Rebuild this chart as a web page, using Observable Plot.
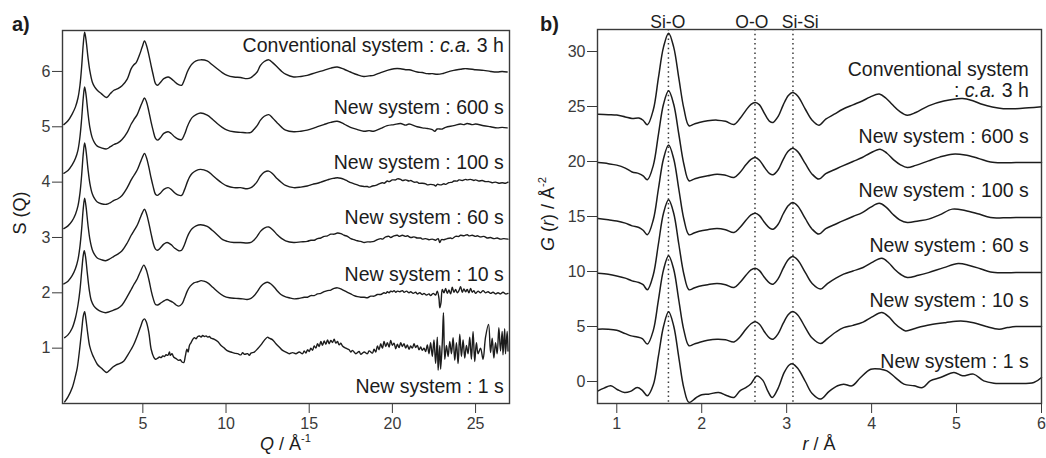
<!DOCTYPE html>
<html><head><meta charset="utf-8">
<script src="https://cdn.jsdelivr.net/npm/d3@7"></script>
<script src="https://cdn.jsdelivr.net/npm/@observablehq/plot@0.6"></script>
<style>
body{margin:0;background:#fff;font-family:"Liberation Sans",Arial,sans-serif;}
#wrap{position:relative;width:1046px;height:458px;overflow:hidden;}
#pa{position:absolute;left:0;top:0}
#pb{position:absolute;left:523px;top:0}
svg{overflow:visible}
</style></head><body><div id="wrap"><div id="pa"></div><div id="pb"></div></div>
<script>
// ---------- Panel a: S(Q) ----------
const sqLabels = ["Conventional system : c.a. 3 h","New system : 600 s","New system : 100 s","New system : 60 s","New system : 10 s","New system : 1 s"];
const sqOffsets = [5,4,3,2,1,0];
const sqXTicks = [5,10,15,20,25];
const sqYTicks = [1,2,3,4,5,6];

const sqConv = [[0.25,0.04],[0.5,0.11],[0.75,0.23],[0.95,0.36],[1.1,0.52],[1.22,0.75],[1.32,1.08],[1.42,1.5],[1.5,1.71],[1.58,1.58],[1.7,1.26],[1.82,1.0],[1.96,0.81],[2.1,0.72],[2.26,0.66],[2.5,0.6],[2.82,0.53],[3.05,0.6],[3.26,0.66],[3.5,0.69],[3.75,0.74],[4.06,0.86],[4.3,1.05],[4.46,1.12],[4.6,1.16],[4.8,1.3],[4.96,1.44],[5.1,1.55],[5.22,1.47],[5.36,1.3],[5.5,1.1],[5.62,0.94],[5.76,0.78],[5.88,0.75],[6.05,0.8],[6.26,0.87],[6.52,0.9],[6.7,0.87],[6.9,0.82],[7.1,0.77],[7.33,0.75],[7.5,0.85],[7.67,0.99],[7.82,1.08],[7.97,1.14],[8.2,1.19],[8.47,1.21],[8.87,1.19],[9.17,1.12],[9.47,1.05],[9.77,0.98],[10.07,0.93],[10.47,0.9],[10.87,0.89],[11.27,0.87],[11.5,0.89],[11.67,0.93],[11.87,0.99],[12.07,1.11],[12.3,1.18],[12.57,1.21],[12.8,1.16],[13.08,1.08],[13.35,1.0],[13.58,0.95],[14.07,0.9],[14.5,0.91],[14.88,0.93],[15.4,0.98],[15.88,1.02],[16.3,1.06],[16.68,1.08],[17.1,1.04],[17.48,0.99],[17.9,0.94],[18.28,0.91],[18.6,0.92],[18.88,0.93],[19.3,0.98],[19.69,1.02],[20.1,1.05],[20.49,1.05],[20.8,1.03],[21.0,1.03],[21.49,0.99],[21.8,0.98],[22.1,0.96],[22.4,0.96],[22.69,0.95],[23.0,0.96],[23.2,0.98],[23.69,1.02],[24.1,1.04],[24.3,1.05],[24.49,1.05],[24.8,1.04],[25.0,1.03],[25.49,1.02],[25.9,1.0],[26.3,0.99],[26.6,1.0],[26.9,0.99]];
const sq600 = [[0.25,0.16],[0.5,0.21],[0.75,0.31],[0.95,0.43],[1.1,0.58],[1.22,0.82],[1.32,1.14],[1.42,1.53],[1.5,1.72],[1.58,1.59],[1.7,1.25],[1.82,0.98],[1.96,0.8],[2.1,0.71],[2.26,0.65],[2.5,0.62],[2.82,0.6],[3.05,0.64],[3.26,0.68],[3.5,0.71],[3.75,0.77],[4.06,0.9],[4.3,1.05],[4.46,1.13],[4.66,1.22],[4.85,1.36],[4.96,1.44],[5.1,1.52],[5.22,1.45],[5.36,1.28],[5.5,1.08],[5.62,0.93],[5.76,0.79],[5.88,0.76],[6.05,0.8],[6.26,0.88],[6.52,0.91],[6.7,0.88],[6.9,0.82],[7.1,0.78],[7.33,0.77],[7.5,0.86],[7.67,1.0],[7.82,1.1],[7.97,1.17],[8.2,1.22],[8.47,1.25],[8.87,1.21],[9.17,1.14],[9.47,1.06],[9.77,0.99],[10.07,0.94],[10.47,0.91],[10.87,0.9],[11.27,0.89],[11.5,0.9],[11.67,0.95],[11.87,1.02],[12.07,1.12],[12.3,1.19],[12.57,1.22],[12.8,1.16],[13.08,1.07],[13.35,0.99],[13.58,0.94],[14.07,0.91],[14.5,0.92],[14.88,0.94],[15.4,0.99],[15.88,1.04],[16.3,1.08],[16.68,1.1],[17.1,1.05],[17.48,0.99],[17.9,0.95],[18.28,0.92],[18.6,0.93],[18.88,0.92],[19.3,0.97],[19.69,1.02],[20.1,1.04],[20.49,1.06],[20.8,1.03],[21.0,1.05],[21.49,1.0],[21.8,0.98],[22.1,0.97],[22.4,0.95],[22.55,0.92],[22.69,0.96],[23.0,0.96],[23.2,0.99],[23.69,1.02],[24.1,1.05],[24.3,1.04],[24.49,1.06],[24.8,1.04],[25.0,1.05],[25.49,1.02],[25.9,1.0],[26.3,0.98],[26.6,0.99],[26.9,0.98]];
const sq100 = [[0.25,0.16],[0.5,0.21],[0.75,0.3],[0.95,0.42],[1.1,0.57],[1.22,0.8],[1.32,1.12],[1.42,1.52],[1.5,1.71],[1.58,1.58],[1.7,1.24],[1.82,0.97],[1.96,0.79],[2.1,0.7],[2.26,0.64],[2.5,0.61],[2.82,0.6],[3.05,0.63],[3.26,0.67],[3.5,0.7],[3.75,0.76],[4.06,0.9],[4.3,1.04],[4.46,1.12],[4.66,1.22],[4.85,1.36],[4.96,1.44],[5.1,1.52],[5.22,1.44],[5.36,1.27],[5.5,1.07],[5.62,0.92],[5.76,0.78],[5.88,0.76],[6.05,0.8],[6.26,0.87],[6.52,0.9],[6.7,0.87],[6.9,0.81],[7.1,0.77],[7.33,0.76],[7.5,0.86],[7.67,1.0],[7.82,1.1],[7.97,1.16],[8.2,1.21],[8.47,1.23],[8.87,1.2],[9.17,1.13],[9.47,1.05],[9.77,0.98],[10.07,0.93],[10.47,0.9],[10.87,0.9],[11.27,0.88],[11.5,0.9],[11.67,0.94],[11.87,1.01],[12.07,1.11],[12.3,1.18],[12.57,1.2],[12.8,1.15],[13.08,1.06],[13.35,0.99],[13.58,0.94],[14.07,0.9],[14.5,0.91],[14.88,0.93],[15.2,0.96],[15.5,0.98],[15.7,1.0],[15.9,1.02],[16.1,1.04],[16.3,1.06],[16.5,1.07],[16.7,1.08],[16.9,1.07],[17.1,1.05],[17.3,1.02],[17.5,0.99],[17.7,0.97],[17.9,0.95],[18.1,0.93],[18.3,0.92],[18.5,0.92],[18.6,0.91],[18.8,0.93],[19.0,0.94],[19.2,0.97],[19.4,0.99],[19.5,0.98],[19.7,1.02],[19.8,1.01],[20.0,1.04],[20.2,1.04],[20.3,1.06],[20.5,1.05],[20.6,1.03],[20.8,1.04],[21.0,1.02],[21.1,1.03],[21.3,1.0],[21.5,1.0],[21.6,0.98],[21.8,0.98],[22.0,0.97],[22.1,0.95],[22.3,0.96],[22.5,0.95],[22.6,0.93],[22.7,0.96],[22.9,0.95],[23.1,0.97],[23.2,0.96],[23.4,0.99],[23.6,1.0],[23.7,1.02],[23.9,1.02],[24.0,1.04],[24.2,1.03],[24.4,1.05],[24.5,1.04],[24.7,1.05],[24.9,1.03],[25.0,1.04],[25.2,1.02],[25.4,1.03],[25.6,1.01],[25.8,1.01],[26.0,0.99],[26.2,1.0],[26.4,0.98],[26.6,0.99],[26.8,0.98],[26.95,1.0]];
const sq60 = [[0.25,0.16],[0.5,0.21],[0.75,0.31],[0.95,0.44],[1.1,0.6],[1.22,0.84],[1.32,1.15],[1.42,1.53],[1.5,1.71],[1.58,1.57],[1.7,1.23],[1.82,0.96],[1.96,0.78],[2.1,0.69],[2.26,0.63],[2.5,0.6],[2.76,0.58],[3.05,0.62],[3.26,0.66],[3.5,0.7],[3.75,0.76],[4.06,0.9],[4.3,1.04],[4.46,1.12],[4.66,1.22],[4.85,1.36],[4.96,1.44],[5.1,1.51],[5.22,1.43],[5.36,1.26],[5.5,1.06],[5.66,0.86],[5.76,0.79],[5.88,0.77],[6.05,0.81],[6.26,0.88],[6.46,0.91],[6.7,0.87],[6.9,0.81],[7.16,0.76],[7.33,0.77],[7.5,0.87],[7.67,1.01],[7.82,1.1],[7.97,1.16],[8.2,1.21],[8.47,1.23],[8.87,1.2],[9.17,1.13],[9.47,1.05],[9.8,0.96],[10.07,0.93],[10.47,0.91],[10.87,0.91],[11.27,0.9],[11.5,0.91],[11.67,0.95],[11.87,1.02],[12.07,1.11],[12.3,1.17],[12.57,1.19],[12.8,1.14],[13.08,1.05],[13.35,0.98],[13.58,0.94],[14.07,0.91],[14.5,0.92],[14.88,0.93],[15.1,0.95],[15.3,0.95],[15.5,0.98],[15.7,0.99],[15.9,1.02],[16.1,1.03],[16.3,1.06],[16.5,1.06],[16.7,1.08],[16.9,1.07],[17.1,1.04],[17.3,1.02],[17.5,0.98],[17.7,0.96],[17.9,0.94],[18.1,0.93],[18.3,0.91],[18.5,0.92],[18.7,0.92],[18.9,0.93],[19.1,0.96],[19.3,0.98],[19.4,0.97],[19.6,1.01],[19.8,1.02],[19.9,1.0],[20.1,1.03],[20.3,1.04],[20.4,1.02],[20.6,1.04],[20.8,1.02],[20.9,1.03],[21.1,1.0],[21.3,1.01],[21.5,0.99],[21.7,0.99],[21.8,0.97],[22.0,0.98],[22.2,0.96],[22.4,0.97],[22.6,0.95],[22.75,0.98],[22.85,0.91],[22.95,0.96],[23.1,0.96],[23.3,0.98],[23.5,0.99],[23.6,0.98],[23.8,1.02],[24.0,1.02],[24.1,1.04],[24.3,1.03],[24.5,1.05],[24.6,1.03],[24.8,1.04],[25.0,1.02],[25.1,1.03],[25.3,1.01],[25.5,1.02],[25.7,0.99],[25.9,1.0],[26.1,0.98],[26.3,0.99],[26.5,0.97],[26.7,0.98],[26.95,0.97]];
const sq10 = [[0.3,0.19],[0.5,0.24],[0.75,0.36],[0.95,0.55],[1.1,0.78],[1.22,1.05],[1.32,1.38],[1.42,1.68],[1.48,1.76],[1.56,1.64],[1.66,1.36],[1.78,1.05],[1.9,0.86],[2.06,0.76],[2.26,0.7],[2.5,0.66],[2.76,0.64],[3.0,0.66],[3.26,0.69],[3.5,0.72],[3.75,0.78],[4.06,0.93],[4.3,1.06],[4.46,1.15],[4.66,1.25],[4.85,1.38],[5.06,1.5],[5.2,1.42],[5.36,1.24],[5.5,1.04],[5.62,0.9],[5.76,0.79],[5.9,0.78],[6.1,0.82],[6.3,0.86],[6.46,0.88],[6.6,0.86],[6.8,0.83],[7.0,0.78],[7.16,0.76],[7.35,0.8],[7.5,0.9],[7.67,1.03],[7.85,1.12],[8.07,1.18],[8.3,1.2],[8.5,1.22],[8.67,1.21],[8.9,1.18],[9.2,1.1],[9.5,1.02],[9.87,0.94],[10.2,0.91],[10.6,0.9],[11.0,0.89],[11.27,0.88],[11.5,0.9],[11.7,0.95],[11.9,1.03],[12.1,1.12],[12.3,1.17],[12.5,1.19],[12.7,1.16],[12.9,1.1],[13.1,1.03],[13.3,0.97],[13.55,0.93],[13.8,0.91],[14.1,0.89],[14.4,0.9],[14.7,0.92],[14.9,0.92],[15.1,0.95],[15.3,0.95],[15.5,0.98],[15.7,0.99],[15.9,1.02],[16.1,1.04],[16.3,1.05],[16.5,1.08],[16.7,1.09],[16.9,1.07],[17.1,1.04],[17.3,1.01],[17.5,0.98],[17.7,0.95],[17.9,0.93],[18.1,0.92],[18.3,0.92],[18.5,0.91],[18.7,0.94],[18.9,0.94],[19.1,0.97],[19.3,0.97],[19.5,1.0],[19.6,0.99],[19.7,1.02],[19.8,1.0],[19.9,1.03],[20.0,1.02],[20.1,1.04],[20.2,1.01],[20.3,1.03],[20.45,1.02],[20.6,1.04],[20.7,1.01],[20.85,1.03],[21.0,1.0],[21.1,1.02],[21.25,0.99],[21.4,1.01],[21.5,0.98],[21.65,1.0],[21.8,0.97],[21.9,0.99],[22.05,0.96],[22.2,0.98],[22.3,0.95],[22.45,0.99],[22.6,0.96],[22.7,1.03],[22.8,0.9],[22.85,0.73],[22.92,0.82],[23.0,1.06],[23.1,1.0],[23.2,1.08],[23.3,0.99],[23.4,1.05],[23.5,0.98],[23.6,1.1],[23.7,1.01],[23.8,1.06],[23.9,1.0],[24.0,1.04],[24.1,1.11],[24.2,1.01],[24.3,1.07],[24.4,1.02],[24.5,1.06],[24.6,1.0],[24.7,1.08],[24.8,1.01],[24.9,1.04],[25.0,0.99],[25.15,1.03],[25.3,1.0],[25.45,1.04],[25.6,1.0],[25.75,1.02],[25.9,0.99],[26.05,1.01],[26.2,0.98],[26.35,1.0],[26.5,0.98],[26.65,1.01],[26.8,0.98],[26.95,0.99]];
const sq1 = [[0.3,0.03],[0.5,0.12],[0.76,0.29],[0.95,0.5],[1.06,0.65],[1.2,0.98],[1.32,1.31],[1.42,1.58],[1.5,1.66],[1.58,1.52],[1.68,1.28],[1.8,1.04],[1.96,0.89],[2.1,0.8],[2.26,0.71],[2.5,0.64],[2.82,0.56],[3.0,0.6],[3.2,0.66],[3.4,0.7],[3.6,0.72],[3.86,0.77],[4.1,0.88],[4.3,0.98],[4.46,1.07],[4.7,1.25],[4.9,1.42],[5.0,1.5],[5.1,1.53],[5.2,1.48],[5.35,1.3],[5.5,0.98],[5.65,0.84],[5.76,0.8],[5.9,0.82],[6.0,0.84],[6.1,0.83],[6.2,0.86],[6.3,0.85],[6.4,0.88],[6.5,0.87],[6.6,0.93],[6.65,0.87],[6.75,0.9],[6.85,0.84],[6.95,0.82],[7.05,0.8],[7.15,0.78],[7.25,0.79],[7.35,0.75],[7.46,0.74],[7.55,0.85],[7.65,0.98],[7.72,0.93],[7.8,1.05],[7.9,1.1],[8.0,1.16],[8.1,1.19],[8.2,1.17],[8.3,1.21],[8.4,1.22],[8.5,1.2],[8.6,1.23],[8.7,1.21],[8.8,1.22],[8.9,1.2],[9.0,1.21],[9.1,1.18],[9.3,1.16],[9.5,1.12],[9.7,1.05],[9.9,1.0],[10.1,0.95],[10.3,0.93],[10.5,0.91],[10.7,0.9],[10.9,0.88],[11.0,0.92],[11.1,0.89],[11.3,0.9],[11.4,0.87],[11.5,0.91],[11.7,0.93],[11.9,0.99],[12.1,1.06],[12.3,1.14],[12.5,1.2],[12.6,1.18],[12.8,1.15],[13.0,1.08],[13.2,1.02],[13.4,0.96],[13.6,0.93],[13.8,0.9],[14.0,0.92],[14.2,0.9],[14.4,0.93],[14.6,0.9],[14.7,0.95],[14.8,0.91],[14.9,0.97],[15.0,0.94],[15.1,1.0],[15.2,0.96],[15.3,1.04],[15.4,1.0],[15.5,1.08],[15.6,1.03],[15.7,1.12],[15.8,1.05],[15.9,1.13],[16.0,1.07],[16.1,1.15],[16.2,1.08],[16.3,1.14],[16.4,1.1],[16.5,1.16],[16.6,1.09],[16.7,1.12],[16.8,1.06],[16.9,1.09],[17.0,1.04],[17.2,1.0],[17.4,0.97],[17.5,0.93],[17.6,0.96],[17.8,0.9],[18.0,0.94],[18.1,0.89],[18.3,0.93],[18.5,0.9],[18.6,0.95],[18.8,0.91],[18.9,0.98],[19.0,0.93],[19.1,1.04],[19.2,0.97],[19.3,1.08],[19.4,1.0],[19.5,1.12],[19.6,1.03],[19.7,1.1],[19.8,1.02],[19.9,1.14],[20.0,1.05],[20.1,1.09],[20.2,0.99],[20.3,1.07],[20.4,1.01],[20.5,1.1],[20.6,1.03],[20.7,1.08],[20.8,1.0],[20.9,1.06],[21.0,0.98],[21.1,1.04],[21.2,1.0],[21.3,1.08],[21.4,1.01],[21.5,1.05],[21.6,0.97],[21.7,1.02],[21.8,0.96],[21.9,1.0],[22.0,0.94],[22.1,1.06],[22.2,0.9],[22.3,1.1],[22.4,0.85],[22.5,1.15],[22.6,0.72],[22.7,1.2],[22.75,0.6],[22.85,1.05],[22.9,0.62],[23.0,1.1],[23.07,1.64],[23.15,0.8],[23.25,1.05],[23.35,0.85],[23.45,1.12],[23.55,0.9],[23.65,1.19],[23.75,0.78],[23.85,1.1],[23.95,0.72],[24.05,1.25],[24.15,0.85],[24.25,1.15],[24.35,0.82],[24.45,1.05],[24.55,0.9],[24.65,1.2],[24.75,0.8],[24.85,1.3],[24.95,0.76],[25.05,1.1],[25.15,0.9],[25.3,1.0],[25.45,0.8],[25.6,1.2],[25.78,1.43],[25.9,0.92],[26.0,1.18],[26.1,0.82],[26.2,1.1],[26.3,0.9],[26.4,1.37],[26.5,0.95],[26.6,1.3],[26.65,0.88],[26.75,1.35],[26.8,0.9],[26.9,1.3],[26.95,0.95]];
const sqSeries = [sqConv, sq600, sq100, sq60, sq10, sq1];

// ---------- Panel b: G(r) ----------
const grLabels = ["Conventional system\n: c.a. 3 h","New system : 600 s","New system : 100 s","New system : 60 s","New system : 10 s","New system : 1 s"];
const grOffsets = [25,20,15,10,5,0];
const grXTicks = [1,2,3,4,5,6];
const grYTicks = [0,5,10,15,20,25,30];
const bondNames = ["Si-O","O-O","Si-Si"];
const bondR = [1.608, 2.627, 3.074];

const grConv = [[0.78,-0.7],[0.9,-0.74],[1.0,-0.78],[1.1,-0.95],[1.18,-1.09],[1.26,-1.05],[1.31,-1.25],[1.36,-1.66],[1.43,-0.3],[1.49,2.6],[1.55,5.4],[1.61,6.67],[1.67,5.4],[1.73,2.6],[1.79,-0.2],[1.85,-1.75],[1.91,-1.6],[1.97,-1.45],[2.07,-1.3],[2.18,-1.24],[2.28,-1.35],[2.38,-1.63],[2.45,-1.1],[2.52,-0.35],[2.58,0.2],[2.63,0.37],[2.68,0.15],[2.74,-0.65],[2.8,-1.35],[2.84,-1.45],[2.9,-0.9],[2.96,0.15],[3.02,1.0],[3.07,1.27],[3.13,0.95],[3.22,-0.25],[3.3,-1.25],[3.38,-1.7],[3.46,-1.15],[3.56,-0.7],[3.66,-0.25],[3.78,0.15],[3.89,0.5],[3.98,0.85],[4.09,1.13],[4.17,0.75],[4.24,0.2],[4.33,-0.45],[4.42,-0.8],[4.52,-0.55],[4.67,0.06],[4.85,0.5],[5.07,0.73],[5.2,0.5],[5.3,0.2],[5.42,-0.05],[5.55,-0.2],[5.7,-0.2],[5.85,-0.12],[6.0,-0.03]];
const gr600 = [[0.78,-0.1],[0.9,-0.2],[1.0,-0.33],[1.1,-0.6],[1.18,-0.95],[1.26,-1.1],[1.31,-1.3],[1.36,-1.66],[1.43,-0.35],[1.49,2.45],[1.55,5.2],[1.61,6.43],[1.67,5.2],[1.73,2.5],[1.79,-0.25],[1.85,-1.75],[1.91,-1.6],[1.97,-1.45],[2.07,-1.3],[2.18,-1.15],[2.28,-1.25],[2.38,-1.45],[2.45,-1.0],[2.52,-0.3],[2.58,0.2],[2.63,0.36],[2.68,0.12],[2.74,-0.55],[2.8,-1.1],[2.84,-1.2],[2.9,-0.75],[2.96,0.2],[3.02,0.95],[3.07,1.2],[3.13,0.9],[3.22,-0.2],[3.3,-1.15],[3.38,-1.6],[3.46,-1.1],[3.56,-0.75],[3.66,-0.4],[3.78,0.0],[3.89,0.36],[3.98,0.75],[4.1,1.12],[4.18,0.75],[4.26,0.15],[4.34,-0.3],[4.42,-0.55],[4.52,-0.35],[4.67,0.06],[4.8,0.4],[4.95,0.67],[5.1,0.6],[5.25,0.3],[5.4,-0.05],[5.55,-0.12],[5.7,-0.1],[5.85,-0.1],[6.0,-0.1]];
const gr100 = [[0.78,-0.18],[0.9,-0.3],[1.0,-0.4],[1.1,-0.6],[1.18,-0.85],[1.26,-1.0],[1.31,-1.25],[1.36,-1.66],[1.43,-0.3],[1.49,2.5],[1.55,5.25],[1.61,6.49],[1.67,5.25],[1.73,2.5],[1.79,-0.25],[1.85,-1.66],[1.91,-1.5],[1.97,-1.35],[2.07,-1.2],[2.18,-1.09],[2.28,-1.2],[2.38,-1.45],[2.45,-1.0],[2.52,-0.35],[2.58,0.15],[2.63,0.3],[2.68,0.08],[2.74,-0.55],[2.8,-1.05],[2.84,-1.15],[2.9,-0.7],[2.96,0.25],[3.02,1.0],[3.07,1.27],[3.13,0.95],[3.22,-0.2],[3.3,-1.15],[3.38,-1.6],[3.46,-1.1],[3.56,-0.75],[3.66,-0.4],[3.78,0.0],[3.89,0.36],[3.98,0.8],[4.09,1.2],[4.17,0.85],[4.25,0.2],[4.33,-0.3],[4.42,-0.55],[4.55,-0.4],[4.67,-0.24],[4.8,0.15],[4.95,0.67],[5.1,0.55],[5.25,0.25],[5.4,-0.1],[5.55,-0.12],[5.7,-0.1],[5.85,-0.1],[6.0,-0.1]];
const gr60 = [[0.78,-0.15],[0.9,-0.25],[1.0,-0.4],[1.1,-0.6],[1.18,-0.85],[1.26,-1.0],[1.31,-1.2],[1.36,-1.66],[1.43,-0.3],[1.49,2.5],[1.55,5.3],[1.61,6.52],[1.67,5.3],[1.73,2.5],[1.79,-0.25],[1.85,-1.66],[1.91,-1.5],[1.97,-1.35],[2.07,-1.2],[2.18,-1.09],[2.28,-1.2],[2.38,-1.45],[2.45,-1.0],[2.52,-0.35],[2.58,0.15],[2.63,0.3],[2.68,0.08],[2.74,-0.55],[2.8,-1.05],[2.84,-1.15],[2.9,-0.65],[2.96,0.3],[3.02,1.1],[3.07,1.37],[3.13,1.05],[3.22,-0.1],[3.3,-1.1],[3.4,-1.6],[3.48,-1.1],[3.58,-0.6],[3.67,-0.24],[3.78,0.05],[3.9,0.36],[4.0,0.8],[4.12,1.2],[4.2,0.8],[4.27,0.2],[4.34,-0.25],[4.42,-0.55],[4.55,-0.35],[4.67,-0.1],[4.85,0.35],[5.02,0.73],[5.15,0.55],[5.28,0.25],[5.4,-0.05],[5.55,-0.12],[5.7,-0.1],[5.85,-0.1],[6.0,-0.1]];
const gr10 = [[0.78,-0.24],[0.9,-0.25],[1.0,-0.35],[1.1,-0.65],[1.17,-0.85],[1.24,-0.95],[1.3,-1.1],[1.36,-1.6],[1.43,-0.35],[1.49,2.4],[1.55,5.15],[1.61,6.43],[1.67,5.2],[1.73,2.4],[1.79,-0.35],[1.85,-1.75],[1.91,-1.6],[1.97,-1.45],[2.07,-1.25],[2.18,-1.15],[2.28,-1.2],[2.38,-1.4],[2.45,-0.95],[2.52,-0.25],[2.58,0.25],[2.63,0.43],[2.68,0.2],[2.74,-0.5],[2.8,-1.05],[2.84,-1.15],[2.9,-0.65],[2.96,0.3],[3.02,1.1],[3.07,1.36],[3.13,1.05],[3.22,-0.1],[3.3,-1.05],[3.4,-1.55],[3.48,-1.1],[3.58,-0.5],[3.67,-0.1],[3.78,0.1],[3.9,0.4],[4.0,0.85],[4.12,1.27],[4.2,0.9],[4.27,0.3],[4.34,-0.15],[4.4,-0.4],[4.52,-0.15],[4.69,0.15],[4.87,0.35],[5.05,0.5],[5.2,0.35],[5.35,0.0],[5.5,-0.24],[5.6,-0.1],[5.7,0.0],[5.85,0.0],[6.0,0.0]];
const gr1 = [[0.78,-0.85],[0.85,-0.6],[0.93,-0.39],[1.01,-0.75],[1.09,-1.0],[1.16,-0.9],[1.24,-0.55],[1.3,-0.8],[1.36,-1.3],[1.43,-0.3],[1.49,2.3],[1.55,5.0],[1.61,6.34],[1.67,5.05],[1.73,2.2],[1.79,-0.6],[1.85,-1.9],[1.93,-1.5],[2.0,-1.2],[2.08,-1.15],[2.2,-1.0],[2.3,-1.3],[2.38,-1.45],[2.45,-0.85],[2.52,-0.55],[2.58,-0.2],[2.65,0.5],[2.72,0.1],[2.78,-0.9],[2.83,-1.45],[2.9,-0.6],[2.97,0.8],[3.03,1.5],[3.07,1.6],[3.13,1.2],[3.22,0.0],[3.3,-1.1],[3.4,-1.6],[3.5,-0.9],[3.6,-0.39],[3.67,-0.24],[3.77,-0.39],[3.87,0.36],[3.99,1.12],[4.11,1.12],[4.18,0.97],[4.28,0.36],[4.38,-0.24],[4.5,-0.39],[4.6,-0.55],[4.69,0.06],[4.81,0.36],[4.97,0.82],[5.07,0.52],[5.2,0.67],[5.32,0.06],[5.44,-0.15],[5.68,-0.18],[5.91,-0.09],[6.0,0.36]];
const grSeries = [grConv, gr600, gr100, gr60, gr10, gr1];

// ---------- build tables ----------
const sqData = sqSeries.flatMap((pts, i) => pts.map(([q, s]) => ({series: sqLabels[i], q, s: s + sqOffsets[i]})));
const grData = grSeries.flatMap((pts, i) => pts.map(([r, g]) => ({series: grLabels[i], r, g: g + grOffsets[i]})));

// label anchors (layout: baseline positions in data units)
const sqLabelRows = sqLabels.map((t, i) => ({t, x: 26.7, y: [6.35, 5.24, 4.24, 3.245, 2.21, 0.196][i]}));
const grLabelRows = grLabels.map((t, i) => ({t, x: 5.85, y: [25.9, 21.67, 16.73, 11.73, 6.73, 1.27][i]}));
const bondRows = bondNames.map((t, i) => ({t, x: [1.6, 2.59, 3.16][i]}));

const FONT = "Liberation Sans, Arial, Helvetica, sans-serif";
const INK = "#1c1c1c";
const AX = "#3a3a3a";

const plotA = Plot.plot({
  width: 523, height: 458,
  marginLeft: 62, marginRight: 14, marginTop: 30, marginBottom: 55,
  style: {fontFamily: FONT, fontSize: "16px", color: AX, background: "transparent", overflow: "visible"},
  x: {domain: [0.17, 27.04], ticks: sqXTicks, tickFormat: "d", tickSize: 10, tickPadding: 4, label: null},
  y: {domain: [0, 6.74], ticks: sqYTicks, tickFormat: "d", tickSize: 10, tickPadding: 2, label: null},
  marks: [
    Plot.line(sqData, {x: "q", y: "s", z: "series", stroke: INK, strokeWidth: 1.4, curve: "catmull-rom"}),
    Plot.frame({stroke: AX, strokeWidth: 1.4}),
    Plot.text(sqLabelRows, {x: "x", y: "y", text: "t", textAnchor: "end", lineAnchor: "bottom", fontSize: 19.5, fill: INK})
  ]
});

const plotB = Plot.plot({
  width: 523, height: 458,
  marginLeft: 74, marginRight: 5, marginTop: 29, marginBottom: 55,
  style: {fontFamily: FONT, fontSize: "16px", color: AX, background: "transparent", overflow: "visible"},
  x: {domain: [0.773, 6.0], ticks: grXTicks, tickFormat: "d", tickSize: 10, tickPadding: 4, label: null},
  y: {domain: [-2, 32], ticks: grYTicks, tickFormat: "d", tickSize: 10, tickPadding: 2, label: null},
  marks: [
    Plot.ruleX(bondR, {stroke: AX, strokeWidth: 1.5, strokeDasharray: "1.5 3.2"}),
    Plot.line(grData, {x: "r", y: "g", z: "series", stroke: INK, strokeWidth: 1.5, curve: "catmull-rom"}),
    Plot.frame({stroke: AX, strokeWidth: 1.4}),
    Plot.text(grLabelRows, {x: "x", y: "y", text: "t", textAnchor: "end", lineAnchor: "bottom", lineHeight: 1.08, fontSize: 19.5, fill: INK}),
    Plot.text(bondRows, {x: "x", y: () => 32, text: "t", lineAnchor: "bottom", dy: -2, fontSize: 17.5, fill: INK})
  ]
});

// italic "c.a."
function styleWord(svg, word) {
  const ns = "http://www.w3.org/2000/svg";
  svg.querySelectorAll("text, tspan").forEach(el => {
    if (el.childNodes.length !== 1 || el.firstChild.nodeType !== 3) return;
    const t = el.textContent; const i = t.indexOf(word); if (i < 0) return;
    el.textContent = "";
    const a = document.createElementNS(ns, "tspan"); a.textContent = t.slice(0, i);
    const b = document.createElementNS(ns, "tspan"); b.textContent = word; b.setAttribute("font-style", "italic");
    const c = document.createElementNS(ns, "tspan"); c.textContent = t.slice(i + word.length);
    el.append(a, b, c);
  });
}
styleWord(plotA, "c.a.");
styleWord(plotB, "c.a.");

function addText(svg, {x, y, rotate = 0, anchor = "middle", size = 18, weight = "normal", parts}) {
  const t = d3.select(svg).append("text")
    .attr("transform", `translate(${x},${y}) rotate(${rotate})`)
    .attr("text-anchor", anchor).attr("font-size", size).attr("font-weight", weight)
    .attr("font-family", FONT).attr("fill", INK);
  for (const p of parts) {
    const s = t.append("tspan").text(p.t);
    if (p.i) s.attr("font-style", "italic");
    if (p.sup) s.attr("font-size", size * 0.62).attr("dy", -size * 0.42);
  }
}
const xa = plotA.scale("x").range;
const xb = plotB.scale("x").range;
addText(plotA, {x: 12, y: 31, anchor: "start", size: 20, weight: "bold", parts: [{t: "a)"}]});
addText(plotA, {x: 26, y: 213, rotate: -90, parts: [{t: "S (Q)"}]});
addText(plotA, {x: (xa[0] + xa[1]) / 2, y: 450, parts: [{t: "Q", i: 1}, {t: " / Å"}, {t: "-1", sup: 1}]});
addText(plotB, {x: 17, y: 31, anchor: "start", size: 20, weight: "bold", parts: [{t: "b)"}]});
addText(plotB, {x: 31, y: 214, rotate: -90, parts: [{t: "G", i: 1}, {t: " ("}, {t: "r", i: 1}, {t: ") / Å"}, {t: "-2", sup: 1}]});
addText(plotB, {x: (xb[0] + xb[1]) / 2, y: 450, parts: [{t: "r", i: 1}, {t: " / Å"}]});

document.getElementById("pa").appendChild(plotA);
document.getElementById("pb").appendChild(plotB);
</script></body></html>
